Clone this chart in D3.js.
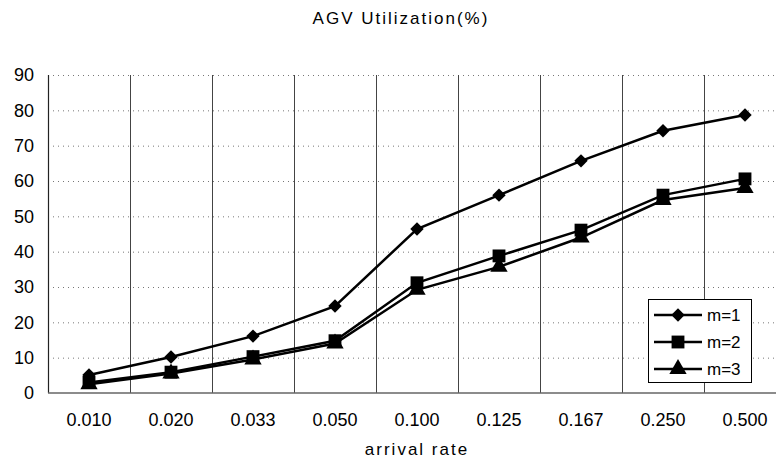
<!DOCTYPE html>
<html><head><meta charset="utf-8">
<script src="https://cdn.jsdelivr.net/npm/d3@7"></script>
<style>body{margin:0;background:#fff}svg{display:block;font-family:"Liberation Sans",Arial,sans-serif}</style>
</head><body><svg id="c" width="776" height="460"></svg>
<script>
const categories = ["0.010","0.020","0.033","0.050","0.100","0.125","0.167","0.250","0.500"];
const m1 = [5.1, 10.2, 16.1, 24.6, 46.4, 56.0, 65.7, 74.2, 78.7];
const m2 = [3.0, 5.9, 10.3, 14.8, 31.2, 38.8, 46.1, 56.0, 60.6];
const m3 = [2.5, 5.5, 9.5, 14.0, 29.2, 35.7, 44.0, 54.6, 58.0];
const seriesNames = ["m=1","m=2","m=3"];
const yTicks = [0,10,20,30,40,50,60,70,80,90];

const svg = d3.select("#c");
const L = 48, R = 786, T = 75, B = 393;
const x = d3.scaleBand().domain(categories).range([L, R]);
const y = d3.scaleLinear().domain([0, 90]).range([B, T]);
const FF = "'Liberation Sans',Arial,sans-serif";

// horizontal dotted gridlines
svg.append("g").selectAll("line").data(yTicks.filter(d=>d>0)).join("line")
  .attr("x1", L).attr("x2", R).attr("y1", d=>y(d)+0.5).attr("y2", d=>y(d)+0.5)
  .attr("stroke", "#777").attr("stroke-width", 1).attr("stroke-dasharray", "1,4");
// vertical solid lines at category boundaries
svg.append("g").selectAll("line").data(categories.slice(1)).join("line")
  .attr("x1", d=>Math.round(x(d))+0.5).attr("x2", d=>Math.round(x(d))+0.5).attr("y1", T).attr("y2", B)
  .attr("stroke", "#444").attr("stroke-width", 1);
// axes lines
svg.append("line").attr("x1", L+0.5).attr("x2", L+0.5).attr("y1", T).attr("y2", B)
  .attr("stroke", "#222").attr("stroke-width", 1.2);
svg.append("line").attr("x1", L).attr("x2", R).attr("y1", B).attr("y2", B)
  .attr("stroke", "#666").attr("stroke-width", 1.5);

// y axis
const yAxis = d3.axisLeft(y).tickValues(yTicks).tickSize(0).tickPadding(14);
const gy = svg.append("g").attr("transform", `translate(${L},0)`).call(yAxis);
gy.select(".domain").remove();
gy.selectAll("text").attr("font-size", 18).attr("fill", "#000").attr("font-family", FF);

// x axis
const xAxis = d3.axisBottom(x).tickSize(0).tickPadding(20);
const gx = svg.append("g").attr("transform", `translate(0,${B})`).call(xAxis);
gx.select(".domain").remove();
gx.selectAll("text").attr("font-size", 18).attr("fill", "#000").attr("font-family", FF);

// titles
svg.append("text").attr("x", 401).attr("y", 24).attr("text-anchor", "middle")
  .attr("font-size", 17).attr("letter-spacing", 2).text("AGV  Utilization(%)");
svg.append("text").attr("x", 417).attr("y", 455).attr("text-anchor", "middle")
  .attr("font-size", 17).attr("letter-spacing", 2).text("arrival rate");

const cx = d => x(d) + x.bandwidth()/2;
const line = d3.line().x((d,i)=>cx(categories[i])).y(d=>y(d));
const squareDiamond = { draw(ctx, size) { const r = Math.sqrt(size/2);
  ctx.moveTo(0,-r); ctx.lineTo(r,0); ctx.lineTo(0,r); ctx.lineTo(-r,0); ctx.closePath(); } };
const symbols = [squareDiamond, d3.symbolSquare, d3.symbolTriangle];
const sizes = [90, 165, 130];
const data = [m1, m2, m3];

data.forEach((vals, k) => {
  svg.append("path").datum(vals).attr("d", line).attr("fill", "none")
    .attr("stroke", "#000").attr("stroke-width", 2.5);
  svg.append("g").selectAll("path").data(vals).join("path")
    .attr("transform", (d,i)=>`translate(${cx(categories[i])},${y(d)})`)
    .attr("d", d3.symbol().type(symbols[k]).size(sizes[k])).attr("fill", "#000");
});

// legend
const lg = svg.append("g");
lg.append("rect").attr("x", 648.5).attr("y", 299.5).attr("width", 103).attr("height", 83)
  .attr("fill", "#fff").attr("stroke", "#000").attr("stroke-width", 1);
seriesNames.forEach((n, k) => {
  const yy = 315 + k*27;
  lg.append("line").attr("x1", 654).attr("x2", 702).attr("y1", yy).attr("y2", yy)
    .attr("stroke", "#000").attr("stroke-width", 2.5);
  lg.append("path").attr("transform", `translate(678,${yy})`)
    .attr("d", d3.symbol().type(symbols[k]).size(sizes[k])).attr("fill", "#000");
  lg.append("text").attr("x", 707).attr("y", yy + 6).attr("font-size", 17).text(n);
});
</script></body></html>
